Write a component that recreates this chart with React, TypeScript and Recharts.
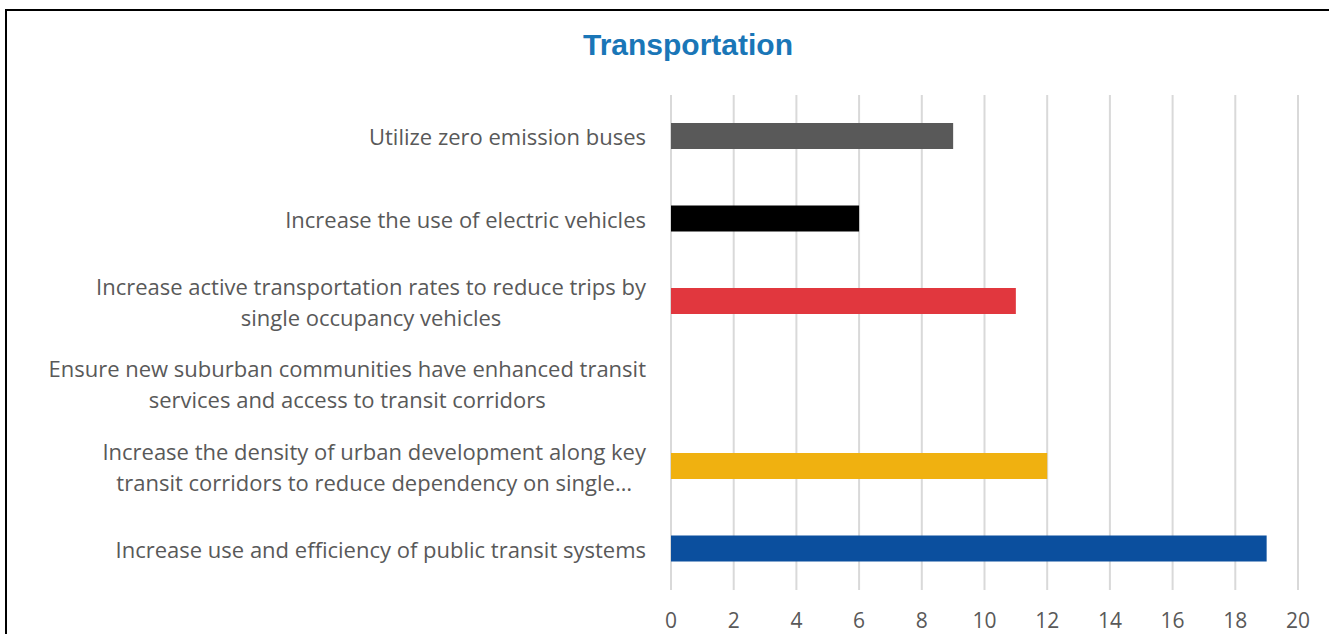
import React from 'react';
import { BarChart, Bar, XAxis, YAxis, CartesianGrid, Cell } from 'recharts';

const categories = [
  'Utilize zero emission buses',
  'Increase the use of electric vehicles',
  'Increase active transportation rates to reduce trips by\nsingle occupancy vehicles',
  'Ensure new suburban communities have enhanced transit\nservices and access to transit corridors',
  'Increase the density of urban development along key\ntransit corridors to reduce dependency on single…',
  'Increase use and efficiency of public transit systems',
];

const counts = [9, 6, 11, 0, 12, 19];

const barColors = ['#595959', '#000000', '#e1373e', '#7f7f7f', '#f0b110', '#0b4f9e'];

const xTicks = [0, 2, 4, 6, 8, 10, 12, 14, 16, 18, 20];

const FONT = '"Open Sans", sans-serif';
const LABEL_SIZE = 22;

let ctx: CanvasRenderingContext2D | null = null;
const measure = (s: string) => {
  if (!ctx) ctx = document.createElement('canvas').getContext('2d');
  if (!ctx) return s.length * 10;
  ctx.font = `${LABEL_SIZE}px "Open Sans"`;
  return ctx.measureText(s).width;
};

const CategoryTick = (props: any) => {
  const { x, y, payload } = props;
  const lines: string[] = String(payload.value).split('\n');
  const widest = Math.max(...lines.map(measure));
  const right = x - 17;
  const cx = right - widest / 2;
  const lineH = 31;
  const startY = y - ((lines.length - 1) * lineH) / 2;
  return (
    <g>
      {lines.map((ln, i) => (
        <text
          key={i}
          x={cx}
          y={startY + i * lineH}
          textAnchor="middle"
          dominantBaseline="central"
          fill="#595959"
          fontSize={LABEL_SIZE}
          fontFamily={FONT}
        >
          {ln}
        </text>
      ))}
    </g>
  );
};

export default function App() {
  const data = categories.map((name, i) => ({ name, value: counts[i] }));

  return (
    <div style={{ position: 'absolute', left: 0, top: 0, width: 1329, height: 634, overflow: 'hidden', background: '#fff' }}>
      <div
        style={{
          position: 'absolute',
          left: 5,
          top: 9,
          width: 1400,
          height: 700,
          border: '2px solid #000',
        }}
      />
      <div
        style={{
          position: 'absolute',
          left: 0,
          width: 1376,
          top: 26,
          textAlign: 'center',
          fontFamily: '"Liberation Sans", Arial, sans-serif',
          fontWeight: 700,
          fontSize: 30,
          color: '#1a76b7',
          lineHeight: '38px',
        }}
      >
        Transportation
      </div>
      <div style={{ position: 'absolute', left: 0, top: 0 }}>
        <BarChart
          width={1329}
          height={634}
          data={data}
          layout="vertical"
          margin={{ top: 95, right: 31, bottom: 4, left: 0 }}
          barSize={26}
        >
          <CartesianGrid horizontal={false} stroke="#d9d9d9" strokeWidth={2} />
          <XAxis
            type="number"
            domain={[0, 20]}
            ticks={xTicks}
            axisLine={false}
            tickLine={false}
            tickMargin={17}
            height={40}
            tick={{ fill: '#595959', fontSize: 21, fontFamily: FONT }}
          />
          <YAxis
            type="category"
            dataKey="name"
            width={671}
            axisLine={false}
            tickLine={false}
            tick={<CategoryTick />}
            interval={0}
          />
          <Bar dataKey="value" isAnimationActive={false}>
            {data.map((d, i) => (
              <Cell key={d.name} fill={barColors[i]} />
            ))}
          </Bar>
        </BarChart>
      </div>
    </div>
  );
}
